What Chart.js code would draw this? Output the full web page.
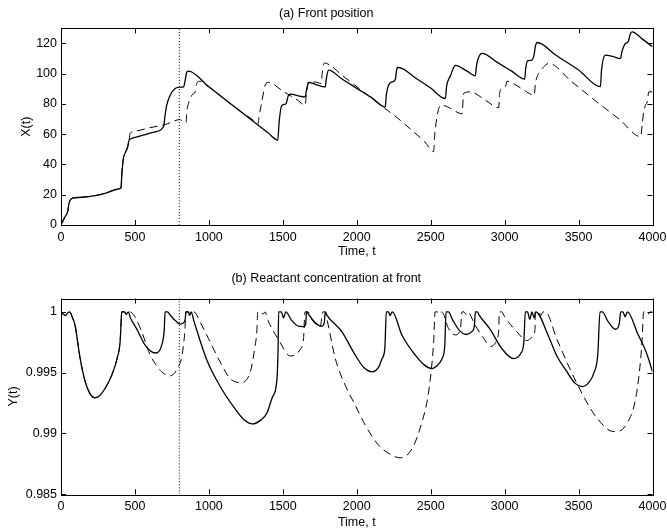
<!DOCTYPE html>
<html lang="en">
<head>
    <meta charset="UTF-8">
    <title>Front position and reactant concentration</title>
    <script src="https://cdn.jsdelivr.net/npm/chart.js@4.4.3/dist/chart.umd.min.js"></script>
    <style>
        body {
            margin: 0;
            background: #fff;
        }
        .panel {
            position: absolute;
            left: 0;
            width: 667px;
        }
    </style>
</head>
<body>
    <div class="panel" style="top:0;height:262px"><canvas id="frontChart"></canvas></div>
    <div class="panel" style="top:262px;height:267px"><canvas id="reactChart"></canvas></div>

    <script>
        // axis ticks
        const timeTicks = [0, 500, 1000, 1500, 2000, 2500, 3000, 3500, 4000];
        const timeTickLabels = ['0', '500', '1000', '1500', '2000', '2500', '3000', '3500', '4000'];
        const frontTicks = [0, 20, 40, 60, 80, 100, 120];
        const frontTickLabels = ['0', '20', '40', '60', '80', '100', '120'];
        const reactTicks = [0.985, 0.99, 0.995, 1];
        const reactTickLabels = ['0.985', '0.99', '0.995', '1'];

        // (a) front position, solid run
        const frontSolidT = [0, 27, 45, 54, 68, 95, 185, 298, 388, 406, 411, 422, 438, 451, 460, 478, 560, 636, 693, 704,
            715, 738, 772, 806, 829, 840, 851, 862, 1000, 1200, 1400, 1466, 1475, 1493, 1520, 1539, 1555, 1600, 1651, 1660,
            1674, 1720, 1787, 1795, 1809, 1900, 2000, 2100, 2193, 2200, 2215, 2240, 2260, 2272, 2283, 2400, 2500, 2599, 2608, 2620,
            2635, 2650, 2667, 2740, 2802, 2808, 2815, 2830, 2847, 2950, 3050, 3136, 3142, 3155, 3185, 3200, 3208, 3220, 3350, 3500,
            3648, 3655, 3682, 3730, 3784, 3792, 3817, 3835, 3851, 3862, 3930, 4000];
        const frontSolidX = [0, 5.5, 8.8, 14.3, 17.2, 18, 18.7, 20.9, 23.8, 24.7, 33, 44, 48.4, 51.7, 56, 57.2, 59.5, 61.6, 64.9, 72.6,
            79.2, 85.8, 90.2, 91.1, 91.3, 95.7, 101.2, 101.7, 91.3, 76.1, 60.9, 56.1, 68, 79, 80, 85.8, 86.5, 85.5, 84.7, 89,
            94.3, 93, 91.3, 97, 102.3, 96.5, 90.3, 84.2, 78.1, 86, 92.4, 94.6, 96, 103.5, 104.1, 97, 90.5, 83.6, 92, 96,
            99, 103, 105.5, 102, 98.6, 104, 108, 112, 113.4, 107.5, 101.5, 96.4, 103, 108.5, 109, 113, 118, 120.6, 112, 102.5,
            91.4, 102, 112.3, 111.5, 110, 114, 120, 121, 126.6, 127.7, 123, 117.8];

        // (a) front position, dashed run
        const frontDashT = [0, 27, 45, 54, 68, 95, 185, 298, 388, 406, 411, 422, 438, 451, 460, 467, 501, 600, 704, 806,
            815, 829, 846, 851, 862, 885, 907, 918, 941, 1000, 1100, 1200, 1313, 1331, 1340, 1358, 1381, 1403, 1500, 1600,
            1651, 1660, 1674, 1720, 1760, 1766, 1775, 1782, 1821, 1900, 2046, 2150, 2272, 2385, 2460, 2520, 2526, 2540, 2555, 2572,
            2700, 2712, 2723, 2768, 2870, 2960, 2966, 2985, 3005, 3016, 3110, 3201, 3207, 3220, 3245, 3265, 3299, 3450, 3614, 3780,
            3920, 3930, 3940, 3953, 3965, 3975, 4000];
        const frontDashX = [0, 5.5, 8.8, 14.3, 17.2, 18, 18.7, 20.9, 23.8, 24.7, 33, 44, 48.4, 51.7, 56, 60.5, 62, 64.3, 66.4, 69.7,
            69, 67.7, 67.8, 74.8, 80.3, 85.8, 88, 93.5, 95, 91.3, 83.7, 76.1, 68.2, 66.5, 72, 81.4, 92.5, 94.3, 88.5, 82.5,
            79.2, 87, 94.3, 94.5, 93.5, 100, 106, 107, 105.5, 99, 88, 80, 71, 61.5, 55, 48.5, 58, 70, 77, 79.2,
            73.7, 73.5, 87, 88, 82.5, 77.5, 87, 90.5, 91.4, 95, 90.5, 85.8, 92.5, 98, 102, 104.6, 106.8, 95, 82.1, 69.5,
            58.4, 66, 74.8, 79.2, 81.5, 88, 88];

        // (b) reactant concentration, solid run
        const reactSolidT = [0, 15, 30, 45, 60, 75, 95, 129, 163, 200, 230, 260, 298, 340, 380, 400, 406, 410, 430, 440,
            455, 470, 512, 569, 614, 645, 681, 698, 704, 720, 740, 780, 805, 828, 840, 845, 860, 870, 880, 900,
            986, 1080, 1166, 1240, 1295, 1350, 1392, 1430, 1460, 1468, 1472, 1490, 1505, 1520, 1560, 1610, 1640, 1655, 1660, 1680,
            1720, 1760, 1780, 1787, 1800, 1900, 1990, 2050, 2103, 2150, 2171, 2190, 2200, 2215, 2225, 2240, 2306, 2396, 2460, 2509,
            2560, 2577, 2595, 2604, 2620, 2650, 2700, 2740, 2780, 2795, 2802, 2815, 2830, 2900, 2980, 3060, 3110, 3130, 3140, 3155,
            3170, 3185, 3200, 3210, 3300, 3355, 3420, 3475, 3525, 3570, 3603, 3630, 3645, 3660, 3700, 3750, 3775, 3785, 3800, 3815,
            3830, 3900, 3960, 4000];
        const reactSolidY = [1, 0.9998, 0.9997, 0.9999, 1, 0.9996, 0.9989, 0.9962, 0.9943, 0.9932, 0.99293, 0.9931, 0.9937, 0.9947, 0.9962, 0.9976, 0.999, 1, 1, 0.9998,
            1, 0.9995, 0.9986, 0.99726, 0.99671, 0.99662, 0.99726, 0.9985, 1, 1, 0.9997, 0.9992, 0.999, 0.9991, 0.9994, 1, 1, 0.9997, 1, 0.9992,
            0.99605, 0.9938, 0.99221, 0.9911, 0.99079, 0.9911, 0.99167, 0.993, 0.99441, 0.997, 1, 1, 0.9995, 1, 0.9993, 0.9988, 0.99879, 0.999, 1, 0.9997,
            0.9991, 0.9988, 0.9991, 1, 0.9997, 0.99836, 0.99644, 0.9954, 0.99507, 0.9955, 0.99616, 0.997, 1, 1, 0.9997, 1, 0.99808, 0.99644, 0.9956, 0.99534,
            0.9958, 0.99616, 0.9972, 1, 1, 0.9993, 0.9984, 0.99814, 0.9984, 0.9988, 1, 1, 0.9997, 0.9986, 0.997, 0.99616, 0.9966, 0.9975, 1, 1,
            0.9994, 1, 0.9995, 1, 0.9979, 0.99633, 0.9951, 0.99414, 0.99386, 0.9942, 0.99496, 0.9965, 1, 1, 0.9992, 0.99857, 0.999, 1, 1, 0.9996,
            1, 0.9982, 0.9966, 0.99509];

        // (b) reactant concentration, dashed run
        const reactDashT = [0, 15, 30, 45, 60, 75, 95, 129, 163, 200, 230, 260, 298, 340, 380, 400, 406, 410, 430, 440,
            455, 470, 480, 500, 546, 603, 637, 681, 738, 794, 815, 828, 838, 844, 860, 880, 900, 920, 940, 997,
            1088, 1144, 1212, 1280, 1313, 1325, 1330, 1350, 1365, 1380, 1400, 1472, 1550, 1618, 1640, 1650, 1670, 1700, 1753, 1770,
            1785, 1800, 1855, 1922, 1990, 2058, 2148, 2238, 2295, 2374, 2441, 2486, 2520, 2530, 2545, 2560, 2575, 2621, 2666, 2700,
            2712, 2725, 2740, 2750, 2800, 2860, 2904, 2940, 2960, 2964, 2980, 3000, 3080, 3152, 3190, 3205, 3208, 3230, 3245, 3260,
            3275, 3355, 3445, 3535, 3625, 3738, 3829, 3896, 3930, 3940, 3960, 3970, 3985, 4000];
        const reactDashY = [1, 0.9998, 0.9997, 0.9999, 1, 0.9996, 0.9989, 0.9962, 0.9943, 0.9932, 0.99293, 0.9931, 0.9937, 0.9947, 0.9962, 0.9976, 0.999, 1, 1, 0.9998,
            1, 1, 0.9999, 0.9996, 0.99836, 0.99644, 0.99575, 0.99507, 0.99474, 0.99548, 0.9962, 0.99726, 0.9985, 1, 1, 0.9998, 1, 0.9997, 0.9992, 0.99781,
            0.99561, 0.99452, 0.99419, 0.99507, 0.99726, 0.9985, 1, 1, 0.9998, 1, 0.9993, 0.9977, 0.99638, 0.99693, 0.9978, 1, 1, 0.9993, 0.9988, 1,
            1, 0.9993, 0.99616, 0.99397, 0.99232, 0.99068, 0.98904, 0.98821, 0.988, 0.98876, 0.99095, 0.99342, 0.99753, 1, 1, 0.9998, 1, 0.99863, 0.99811, 0.9985,
            1, 1, 0.9998, 1, 0.9989, 0.9978, 0.99715, 0.9975, 0.9985, 1, 1, 0.9996, 0.9984, 0.99764, 0.998, 0.9985, 1, 1, 0.9997, 1,
            1, 0.9977, 0.99523, 0.99303, 0.99126, 0.99016, 0.99085, 0.99359, 0.9977, 1, 1, 0.9998, 1, 1];

        // dotted marker at t = 800
        const markerT = [800, 800];
        const frontMarkerY = [0, 130];
        const reactMarkerY = [0.985, 1.0011];

        Chart.defaults.font.family = '"Liberation Sans", Arial, Helvetica, sans-serif';
        Chart.defaults.font.size = 12.5;
        Chart.defaults.color = '#000';

        function toPoints(ts, vs) {
            return ts.map((t, i) => ({ x: t, y: vs[i] }));
        }

        // box round the plot with inward tick marks on all four sides
        const boxPlugin = {
            id: 'box',
            afterDatasetsDraw(chart) {
                const { ctx, chartArea: a, scales } = chart;
                const len = 5;
                ctx.save();
                ctx.strokeStyle = '#000';
                ctx.lineWidth = 1;
                ctx.beginPath();
                scales.x.ticks.forEach(t => {
                    const px = Math.round(scales.x.getPixelForValue(t.value)) + 0.5;
                    ctx.moveTo(px, a.bottom); ctx.lineTo(px, a.bottom - len);
                    ctx.moveTo(px, a.top); ctx.lineTo(px, a.top + len);
                });
                scales.y.ticks.forEach(t => {
                    const py = Math.round(scales.y.getPixelForValue(t.value)) + 0.5;
                    ctx.moveTo(a.left, py); ctx.lineTo(a.left + len, py);
                    ctx.moveTo(a.right, py); ctx.lineTo(a.right - len, py);
                });
                ctx.stroke();
                ctx.strokeRect(Math.round(a.left) + 0.5, Math.round(a.top) + 0.5,
                    Math.round(a.right - a.left), Math.round(a.bottom - a.top));
                ctx.restore();
            }
        };

        function makeChart(id, o) {
            const line = { borderColor: '#000', pointRadius: 0, fill: false, cubicInterpolationMode: 'monotone' };
            return new Chart(document.getElementById(id), {
                type: 'line',
                data: {
                    datasets: [
                        { ...line, data: toPoints(markerT, o.marker), borderWidth: 1, borderDash: [1, 2] },
                        { ...line, data: toPoints(o.dashT, o.dashV), borderWidth: 1, borderDash: [8, 5] },
                        { ...line, data: toPoints(o.solidT, o.solidV), borderWidth: 1.3 }
                    ]
                },
                options: {
                    responsive: true,
                    maintainAspectRatio: false,
                    animation: false,
                    layout: { padding: { left: 0, right: 14.5, top: 0, bottom: 0 } },
                    plugins: {
                        legend: { display: false },
                        tooltip: { enabled: false },
                        title: {
                            display: true,
                            text: o.title,
                            font: { size: 12.5, weight: 'normal' },
                            padding: o.titlePad
                        }
                    },
                    scales: {
                        x: {
                            type: 'linear',
                            min: 0,
                            max: 4000,
                            grid: { display: false, drawTicks: false },
                            border: { display: false },
                            afterBuildTicks: axis => { axis.ticks = timeTicks.map(v => ({ value: v })); },
                            ticks: { padding: 5, maxRotation: 0, autoSkip: false, callback: (v, i) => timeTickLabels[i] },
                            title: { display: true, text: 'Time, t', font: { size: 12.5, lineHeight: 1 }, padding: { top: 0, bottom: o.timePad } },
                            afterFit: axis => {
                                axis.height = o.xHeight;
                                axis.paddingLeft = 0; axis.paddingRight = 0;
                            }
                        },
                        y: {
                            type: 'linear',
                            min: o.yMin,
                            max: o.yMax,
                            grid: { display: false, drawTicks: false },
                            border: { display: false },
                            afterBuildTicks: axis => { axis.ticks = o.yTicks.map(v => ({ value: v })); },
                            ticks: { padding: 4, callback: (v, i) => o.yLabels[i] },
                            title: { display: true, text: o.yTitle, font: { size: 12.5 }, padding: { top: o.yTitlePad, bottom: 0 } },
                            afterFit: axis => {
                                axis.width = 61;
                                axis.paddingTop = 0; axis.paddingBottom = 0;
                            }
                        }
                    }
                },
                plugins: [boxPlugin]
            });
        }

        makeChart('frontChart', {
            title: '(a) Front position',
            titlePad: { top: 6.5, bottom: 6.8 },
            solidT: frontSolidT, solidV: frontSolidX,
            dashT: frontDashT, dashV: frontDashX,
            marker: frontMarkerY,
            yMin: 0, yMax: 130,
            yTicks: frontTicks, yLabels: frontTickLabels,
            yTitle: 'X(t)', yTitlePad: 19,
            xHeight: 37, timePad: 4
        });

        makeChart('reactChart', {
            title: '(b) Reactant concentration at front',
            titlePad: { top: 8.8, bottom: 12.7 },
            solidT: reactSolidT, solidV: reactSolidY,
            dashT: reactDashT, dashV: reactDashY,
            marker: reactMarkerY,
            yMin: 0.985, yMax: 1.0011,
            yTicks: reactTicks, yLabels: reactTickLabels,
            yTitle: 'Y(t)', yTitlePad: 6,
            xHeight: 34.7, timePad: 0.5
        });
    </script>
</body>
</html>
